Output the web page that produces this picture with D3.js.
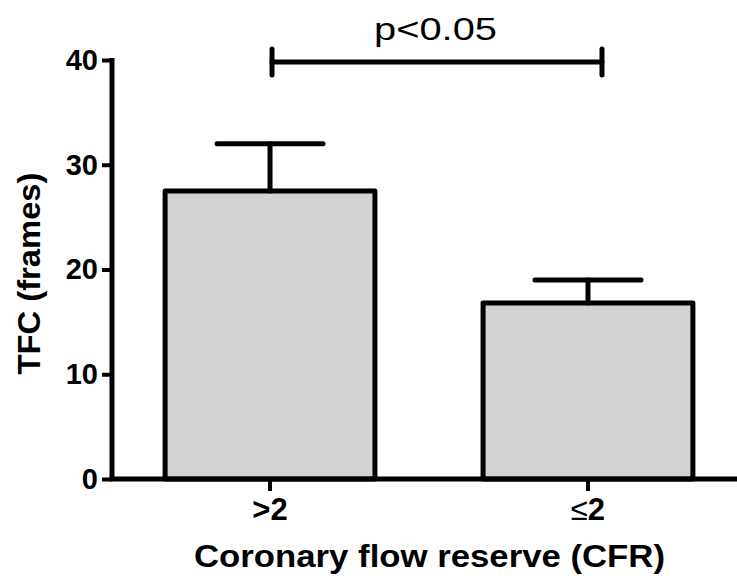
<!DOCTYPE html>
<html>
<head>
<meta charset="utf-8">
<script src="https://cdn.jsdelivr.net/npm/d3@7"></script>
<style>
  body { margin: 0; background: #fff; }
  text { font-family: "Liberation Sans", Arial, sans-serif; }
</style>
</head>
<body>
<div class="chart"></div>
<script>
const categories = [">2", "\u22642"];
const means = [27.5, 16.8];
const sems = [4.5, 2.2];
const yTicks = [0, 10, 20, 30, 40];
const sigLabel = "p<0.05";

const W = 737, H = 579;
const x0 = 112, y0 = 479, yTop = 60, axisEnd = 737;

const svg = d3.select('.chart').append('svg')
    .attr("width", W)
    .attr("height", H);

const xScale = d3.scaleBand()
    .domain(categories)
    .range([x0, 746])
    .paddingInner(0.34)
    .paddingOuter(0.167);

const yScale = d3.scaleLinear()
    .domain([0, 40])
    .range([y0, yTop]);

const data = categories.map((c, i) => ({cat: c, mean: means[i], sem: sems[i]}));
const mid = d => xScale(d) + xScale.bandwidth() / 2;

// bars
svg.append("g")
    .selectAll("rect")
    .data(data)
    .join("rect")
    .attr("x", d => xScale(d.cat))
    .attr("y", d => yScale(d.mean))
    .attr("width", xScale.bandwidth())
    .attr("height", d => yScale(0) - yScale(d.mean))
    .attr("fill", "#d3d3d3")
    .attr("stroke", "#000")
    .attr("stroke-width", 5)
    .attr("stroke-linejoin", "round");

// error bars (upper only)
const eb = svg.append("g")
    .attr("stroke", "#000")
    .attr("stroke-width", 5)
    .attr("stroke-linecap", "round");

eb.selectAll(".stem")
    .data(data)
    .join("line")
    .attr("x1", d => mid(d.cat))
    .attr("x2", d => mid(d.cat))
    .attr("y1", d => yScale(d.mean))
    .attr("y2", d => yScale(d.mean + d.sem));

eb.selectAll(".cap")
    .data(data)
    .join("line")
    .attr("x1", d => mid(d.cat) - 53)
    .attr("x2", d => mid(d.cat) + 53)
    .attr("y1", d => yScale(d.mean + d.sem))
    .attr("y2", d => yScale(d.mean + d.sem));

// y axis
const yAxis = d3.axisLeft(yScale)
    .tickValues(yTicks)
    .tickSize(10)
    .tickPadding(4)
    .tickFormat(d3.format("d"));

svg.append("g")
    .attr("transform", `translate(${x0},0)`)
    .call(yAxis)
    .call(g => g.select(".domain").remove())
    .call(g => g.selectAll(".tick line").attr("stroke", "#000").attr("stroke-width", 4))
    .call(g => g.selectAll(".tick text")
        .attr("font-size", "29px")
        .attr("font-weight", "bold")
        .attr("fill", "#000")
        .attr("font-family", "Liberation Sans, Arial, sans-serif"));

svg.append("line")
    .attr("x1", x0).attr("x2", x0)
    .attr("y1", yScale(40) - 2).attr("y2", y0 + 2)
    .attr("stroke", "#000")
    .attr("stroke-width", 5);

// x axis
const xAxis = d3.axisBottom(xScale)
    .tickSize(12)
    .tickPadding(7);

svg.append("g")
    .attr("transform", `translate(0,${y0})`)
    .call(xAxis)
    .call(g => g.select(".domain").remove())
    .call(g => g.selectAll(".tick line").attr("stroke", "#000").attr("stroke-width", 4))
    .call(g => g.selectAll(".tick text")
        .attr("font-size", "31px")
        .attr("font-weight", "bold")
        .attr("fill", "#000")
        .attr("font-family", "Liberation Sans, Arial, sans-serif")
        .each(function(d) {
            // the "less or equal" sign is drawn in regular weight
            if (d.startsWith("\u2264")) {
                const t = d3.select(this).text(null);
                t.append("tspan").attr("font-weight", "normal").text("\u2264");
                t.append("tspan").text(d.slice(1));
            }
        }));

svg.append("line")
    .attr("x1", x0 - 2).attr("x2", axisEnd)
    .attr("y1", y0).attr("y2", y0)
    .attr("stroke", "#000")
    .attr("stroke-width", 5);

// significance bracket
const c1 = mid(categories[0]) + 2;
const c2 = mid(categories[1]) + 14;
const sigY = yScale(40) + 2;

const sig = svg.append("g")
    .attr("stroke", "#000")
    .attr("stroke-width", 5)
    .attr("stroke-linecap", "round");
sig.append("line").attr("x1", c1).attr("x2", c2).attr("y1", sigY).attr("y2", sigY);
sig.append("line").attr("x1", c1).attr("x2", c1).attr("y1", sigY - 13).attr("y2", sigY + 13);
sig.append("line").attr("x1", c2).attr("x2", c2).attr("y1", sigY - 13).attr("y2", sigY + 13);

svg.append("text")
    .attr("x", 374)
    .attr("y", 40)
    .attr("font-size", "32px")
    .attr("textLength", 123)
    .attr("lengthAdjust", "spacingAndGlyphs")
    .text(sigLabel);

// axis titles
svg.append("text")
    .attr("x", 194)
    .attr("y", 567)
    .attr("font-size", "31px")
    .attr("font-weight", "bold")
    .attr("textLength", 471)
    .attr("lengthAdjust", "spacingAndGlyphs")
    .text("Coronary flow reserve (CFR)");

svg.append("text")
    .attr("transform", `translate(40,${(y0 + yTop) / 2 + 4}) rotate(-90)`)
    .attr("text-anchor", "middle")
    .attr("font-size", "31px")
    .attr("font-weight", "bold")
    .attr("textLength", 202)
    .attr("lengthAdjust", "spacingAndGlyphs")
    .text("TFC (frames)");
</script>
</body>
</html>
